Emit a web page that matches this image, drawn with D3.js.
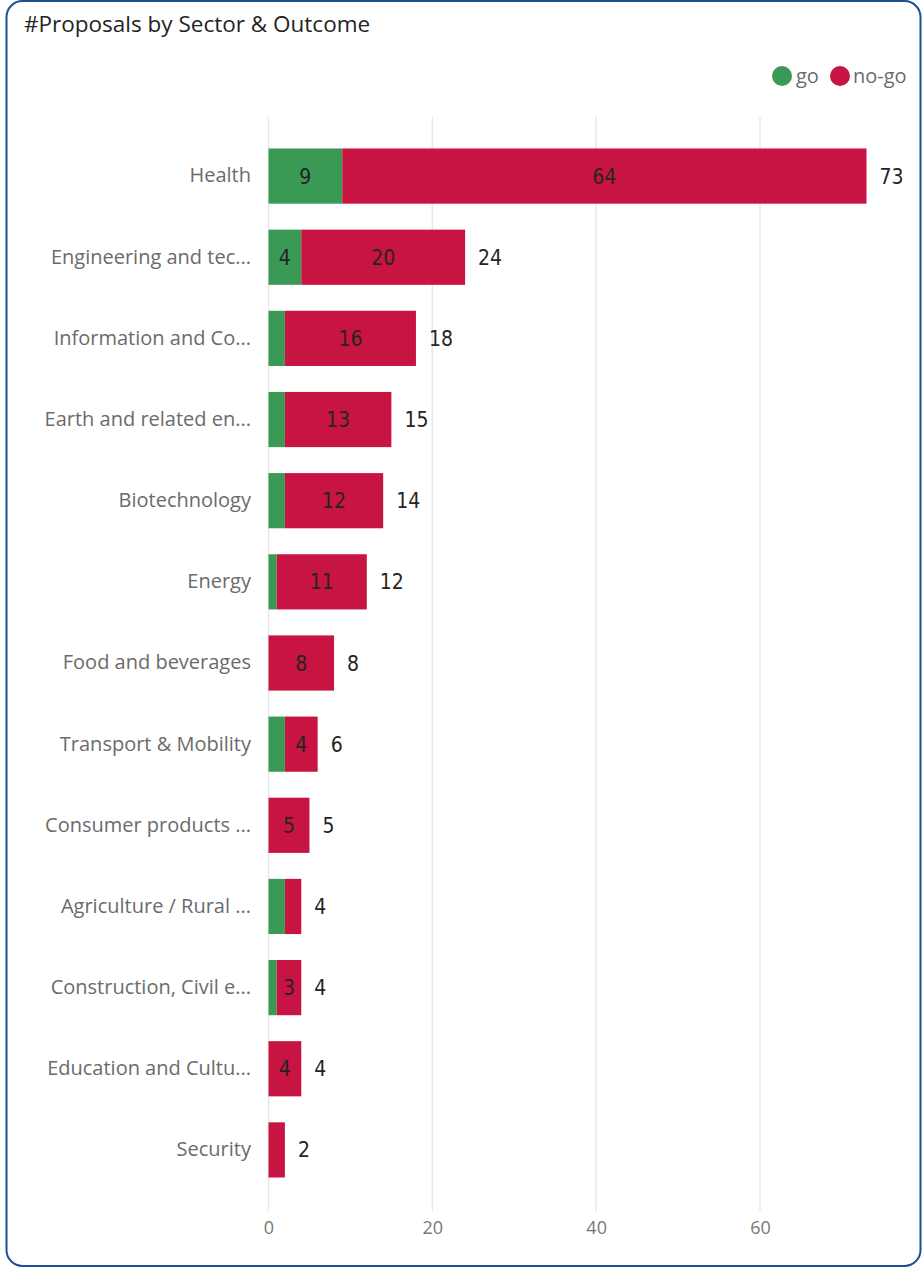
<!DOCTYPE html>
<html><head><meta charset="utf-8">
<script src="https://cdn.jsdelivr.net/npm/d3@7"></script>
<style>
html,body{margin:0;padding:0;background:#fff;}
svg{display:block;}
</style></head>
<body>
<svg id="chart" width="922" height="1268"></svg>
<script>
const categories = ["Health","Engineering and tec...","Information and Co...","Earth and related en...","Biotechnology","Energy","Food and beverages","Transport & Mobility","Consumer products ...","Agriculture / Rural ...","Construction, Civil e...","Education and Cultu...","Security"];
const goValues =   [9,4,2,2,2,1,0,2,0,2,1,0,0];
const noGoValues = [64,20,16,13,12,11,8,4,5,2,3,4,2];
const seriesNames = ["go","no-go"];
const seriesColors = ["#3A9A55","#C71442"];
const xTicks = [0,20,40,60];

const svg = d3.select("#chart");
const W = 922, H = 1268;
const uiFont = "'Open Sans','Noto Sans',sans-serif";

// card border
svg.append("rect").attr("x",6.5).attr("y",1).attr("width",914).attr("height",1265)
  .attr("rx",16).attr("fill","#fff").attr("stroke","#1F4E96").attr("stroke-width",2);

svg.append("text").attr("x",24).attr("y",32).text("#Proposals by Sector & Outcome")
  .attr("font-family",uiFont).attr("font-size",22.5).attr("fill","#252423");

const x = d3.scaleLinear().domain([0,60]).range([268.5,760]);
const y = d3.scaleBand().domain(categories).range([135.5,1190.5]).paddingInner(0.32).paddingOuter(0.16);

const data = categories.map((c,i)=>({cat:c, go:goValues[i], nogo:noGoValues[i], total:goValues[i]+noGoValues[i]}));
const stack = d3.stack().keys(["go","nogo"])(data);

// gridlines
svg.append("g").selectAll("line").data(xTicks).join("line")
  .attr("x1",d=>x(d)).attr("x2",d=>x(d)).attr("y1",117).attr("y2",1211)
  .attr("stroke","#E8E8E8").attr("stroke-width",1.5);

// x axis labels
const xAxis = d3.axisBottom(x).tickValues(xTicks).tickSize(0).tickPadding(0);
const ax = svg.append("g").attr("transform","translate(0,1221)").call(xAxis);
ax.select(".domain").remove();
ax.selectAll("text").attr("font-family",uiFont).attr("font-size",18).attr("fill","#777").attr("dy","0.71em");

// y axis labels
const yAxis = d3.axisLeft(y).tickSize(0).tickPadding(0);
const ay = svg.append("g").attr("transform","translate(251,0)").call(yAxis);
ay.select(".domain").remove();
ay.selectAll("text").attr("font-family",uiFont).attr("font-size",20).attr("fill","#6B6B6B");

// bars
const layers = svg.append("g").selectAll("g").data(stack).join("g").attr("fill",(d,i)=>seriesColors[i]);
layers.selectAll("rect").data(d=>d).join("rect")
  .attr("x",d=>x(d[0])).attr("y",d=>y(d.data.cat))
  .attr("width",d=>x(d[1])-x(d[0])).attr("height",y.bandwidth());

// segment labels
const lblFont = "'DejaVu Sans Condensed','Liberation Sans Narrow','Roboto',sans-serif";
stack.forEach(layer=>{
  svg.append("g").selectAll("text").data(layer.filter(d=>(x(d[1])-x(d[0]))>=20)).join("text")
    .attr("x",d=>(x(d[0])+x(d[1]))/2).attr("y",d=>y(d.data.cat)+y.bandwidth()/2)
    .attr("text-anchor","middle").attr("dy","0.36em")
    .attr("font-family",lblFont).attr("font-size",21).attr("fill","#252423")
    .text(d=>d[1]-d[0]);
});

// total labels
svg.append("g").selectAll("text").data(data).join("text")
  .attr("x",d=>x(d.total)+13).attr("y",d=>y(d.cat)+y.bandwidth()/2)
  .attr("dy","0.36em").attr("font-family",lblFont).attr("font-size",21).attr("fill","#252423")
  .text(d=>d.total);

// legend
const lg = svg.append("g");
const legendPos = [[782,796],[840,853]];
seriesNames.forEach((n,i)=>{
  lg.append("circle").attr("cx",legendPos[i][0]).attr("cy",76).attr("r",10).attr("fill",seriesColors[i]);
  lg.append("text").attr("x",legendPos[i][1]).attr("y",76).attr("dy","0.35em")
    .attr("font-family",uiFont).attr("font-size",20).attr("fill","#6B6B6B").text(n);
});
</script>
</body></html>
